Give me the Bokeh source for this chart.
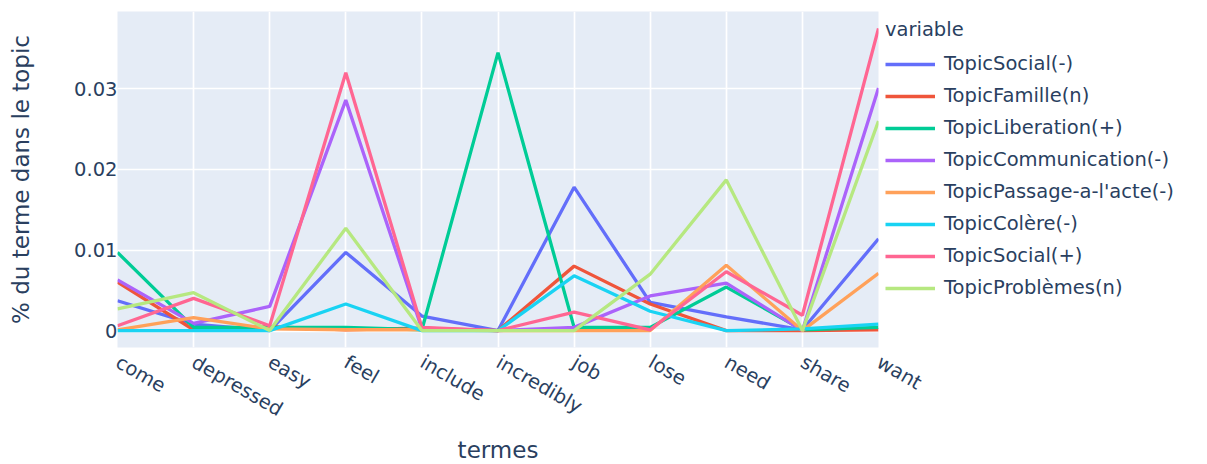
import math
from bokeh.plotting import figure
from bokeh.models import (Range1d, FixedTicker, CustomJSTickFormatter, Legend, LegendItem, Span)
from bokeh.embed import file_html
from bokeh.resources import INLINE

categories = ["come", "depressed", "easy", "feel", "include", "incredibly",
              "job", "lose", "need", "share", "want"]

series_names = ["TopicSocial(-)", "TopicFamille(n)", "TopicLiberation(+)",
                "TopicCommunication(-)", "TopicPassage-a-l'acte(-)", "TopicColère(-)",
                "TopicSocial(+)", "TopicProblèmes(n)"]

social_neg = [0.0037, 0.0008, 0.0, 0.0097, 0.0018, 0.0, 0.0178, 0.0035, 0.0017, 0.0001, 0.0114]
famille = [0.0060, 0.0001, 0.0005, 0.0001, 0.0003, 0.0, 0.0080, 0.0033, 0.0, 0.0, 0.0001]
liberation = [0.0097, 0.0004, 0.0004, 0.0004, 0.0001, 0.0345, 0.0004, 0.0004, 0.0054, 0.0001, 0.0004]
communication = [0.0063, 0.0009, 0.0030, 0.0286, 0.0002, 0.0, 0.0004, 0.0043, 0.0059, 0.0, 0.0301]
passage = [0.0001, 0.0016, 0.0002, 0.0001, 0.0001, 0.0, 0.0, 0.0, 0.0081, 0.0, 0.0071]
colere = [0.0, 0.0, 0.0, 0.0033, 0.0, 0.0, 0.0068, 0.0024, 0.0, 0.0002, 0.0008]
social_pos = [0.0006, 0.0040, 0.0006, 0.0320, 0.0004, 0.0, 0.0023, 0.0001, 0.0073, 0.0019, 0.0375]
problemes = [0.0027, 0.0047, 0.0, 0.0127, 0.0, 0.0, 0.0, 0.0070, 0.0187, 0.0, 0.0260]

all_series = [social_neg, famille, liberation, communication, passage, colere, social_pos, problemes]
colors = ["#636efa", "#EF553B", "#00cc96", "#ab63fa", "#FFA15A", "#19d3f3", "#FF6692", "#B6E880"]

y_ticks = [0, 0.01, 0.02, 0.03]

FONT = "DejaVu Sans"
TXT = "#2a3f5f"

p = figure(frame_width=761, frame_height=336, output_backend="svg", toolbar_location=None,
           x_range=Range1d(0, len(categories) - 1), y_range=Range1d(-0.0021, 0.0396),
           min_border_left=117, min_border_right=0, min_border_top=11, min_border_bottom=117)
p.background_fill_color = "#E5ECF6"
p.border_fill_color = "white"
p.outline_line_color = None

xs = list(range(len(categories)))
items = []
for name, vals, col in zip(series_names, all_series, colors):
    r = p.line(xs, vals, line_color=col, line_width=3.3)
    items.append(LegendItem(label=name, renderers=[r]))

zero = Span(location=0, dimension="width", line_color="white", line_width=3.3, level="underlay")
p.add_layout(zero)

p.xaxis.ticker = FixedTicker(ticks=xs)
p.xaxis.major_label_overrides = {i: c for i, c in enumerate(categories)}
p.xaxis.major_label_orientation = -math.pi / 6
p.yaxis.ticker = FixedTicker(ticks=y_ticks)
p.yaxis.formatter = CustomJSTickFormatter(code="return tick == 0 ? '0' : tick.toFixed(2);")

for ax in (p.xaxis[0], p.yaxis[0]):
    ax.axis_line_color = None
    ax.major_tick_line_color = None
    ax.minor_tick_line_color = None
    ax.major_tick_out = 0
    ax.major_tick_in = 0
    ax.minor_tick_out = 0
    ax.minor_tick_in = 0
    ax.major_label_text_font = FONT
    ax.major_label_text_font_size = "19.5px"
    ax.major_label_text_color = TXT
    ax.axis_label_text_font = FONT
    ax.axis_label_text_font_size = "23px"
    ax.axis_label_text_font_style = "normal"
    ax.axis_label_text_color = TXT

p.xaxis.axis_label = "termes"
p.yaxis.axis_label = "% du terme dans le topic"
p.xaxis.major_label_standoff = 13
p.yaxis.major_label_standoff = 0
p.xaxis.axis_label_standoff = 3
p.yaxis.axis_label_standoff = 37

p.xgrid.grid_line_color = "white"
p.xgrid.grid_line_width = 1.7
p.ygrid.grid_line_color = "white"
p.ygrid.grid_line_width = 1.7

legend = Legend(items=items, title="variable", location="top_left")
legend.title_text_font = FONT
legend.title_text_font_size = "19.5px"
legend.title_text_font_style = "normal"
legend.title_text_color = TXT
legend.label_text_font = FONT
legend.label_text_font_size = "19.5px"
legend.label_text_color = TXT
legend.glyph_width = 50
legend.glyph_height = 22
legend.label_height = 22
legend.spacing = 9
legend.label_standoff = 9
legend.margin = 7
legend.padding = 12
legend.border_line_color = None
legend.background_fill_alpha = 0
legend.title_standoff = 11
p.add_layout(legend, "right")

open("out.html", "w").write(file_html(p, INLINE))
